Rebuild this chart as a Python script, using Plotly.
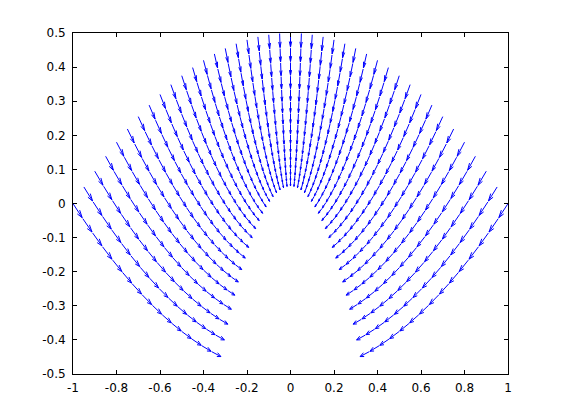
import numpy as np
import plotly.graph_objects as go

# x position at which each of the 41 streamlines leaves the outer boundary
STREAM_X_OUTER = [-1.00, -0.95, -0.90, -0.85, -0.80, -0.75, -0.70, -0.65, -0.60, -0.55,
                  -0.50, -0.45, -0.40, -0.35, -0.30, -0.25, -0.20, -0.15, -0.10, -0.05,
                  0.00, 0.05, 0.10, 0.15, 0.20, 0.25, 0.30, 0.35, 0.40, 0.45,
                  0.50, 0.55, 0.60, 0.65, 0.70, 0.75, 0.80, 0.85, 0.90, 0.95, 1.00]
# grid levels along every streamline (parabolic coordinate), outer -> inner
U_LEVELS = [0.707, 0.675, 0.643, 0.611, 0.578, 0.546, 0.514, 0.482,
            0.449, 0.417, 0.385, 0.353, 0.320, 0.288, 0.256, 0.224]

X_TICKS = [-1, -0.8, -0.6, -0.4, -0.2, 0, 0.2, 0.4, 0.6, 0.8, 1]
X_TICK_LABELS = ["-1", "-0.8", "-0.6", "-0.4", "-0.2", "0", "0.2", "0.4", "0.6", "0.8", "1"]
Y_TICKS = [-0.5, -0.4, -0.3, -0.2, -0.1, 0, 0.1, 0.2, 0.3, 0.4, 0.5]
Y_TICK_LABELS = ["-0.5", "-0.4", "-0.3", "-0.2", "-0.1", "0", "0.1", "0.2", "0.3", "0.4", "0.5"]

ARROW_SCALE = 0.93
HEAD_ALPHA = 0.4
HEAD_BETA = 0.33

u = np.array(U_LEVELS)
v = np.array(STREAM_X_OUTER) / (2 * u[0])
UU, VV = np.meshgrid(u, v)           # rows: streamlines, cols: levels
GX = 2 * UU * VV
GY = UU ** 2 - VV ** 2

# quiver data: base at each grid point, vector to the next inner level
qx = GX[:, :-1].ravel()
qy = GY[:, :-1].ravel()
qu = (GX[:, 1:] - GX[:, :-1]).ravel() * ARROW_SCALE
qv = (GY[:, 1:] - GY[:, :-1]).ravel() * ARROW_SCALE

shaft_x, shaft_y, head_x, head_y = [], [], [], []
eps = 1e-12
for x0, y0, du, dv in zip(qx, qy, qu, qv):
    shaft_x += [x0, x0 + du, None]
    shaft_y += [y0, y0 + dv, None]
    xe, ye = x0 + du, y0 + dv
    head_x += [xe - HEAD_ALPHA * (du + HEAD_BETA * (dv + eps)), xe,
               xe - HEAD_ALPHA * (du - HEAD_BETA * (dv + eps)), None]
    head_y += [ye - HEAD_ALPHA * (dv - HEAD_BETA * (du + eps)), ye,
               ye - HEAD_ALPHA * (dv + HEAD_BETA * (du + eps)), None]

fig = go.Figure()
fig.add_trace(go.Scatter(x=shaft_x, y=shaft_y, mode="lines",
                         line=dict(color="#0000FF", width=1), hoverinfo="skip",
                         showlegend=False))
fig.add_trace(go.Scatter(x=head_x, y=head_y, mode="lines",
                         line=dict(color="#0000FF", width=1), hoverinfo="skip",
                         showlegend=False))

axis_common = dict(showgrid=False, zeroline=False, showline=True, linecolor="black",
                   linewidth=1, mirror="allticks", ticks="inside", ticklen=4,
                   tickcolor="black", tickwidth=1,
                   tickfont=dict(family="DejaVu Sans", size=12, color="black"))
fig.update_xaxes(range=[-1, 1], tickvals=X_TICKS, ticktext=X_TICK_LABELS,
                 ticklabelstandoff=3, **axis_common)
fig.update_yaxes(range=[-0.5, 0.5], tickvals=Y_TICKS, ticktext=Y_TICK_LABELS,
                 ticklabelstandoff=4, **axis_common)
fig.update_layout(width=553, height=412,
                  margin=dict(l=65, r=53, t=25, b=46),
                  paper_bgcolor="white", plot_bgcolor="white")
fig.write_html("out.html")
